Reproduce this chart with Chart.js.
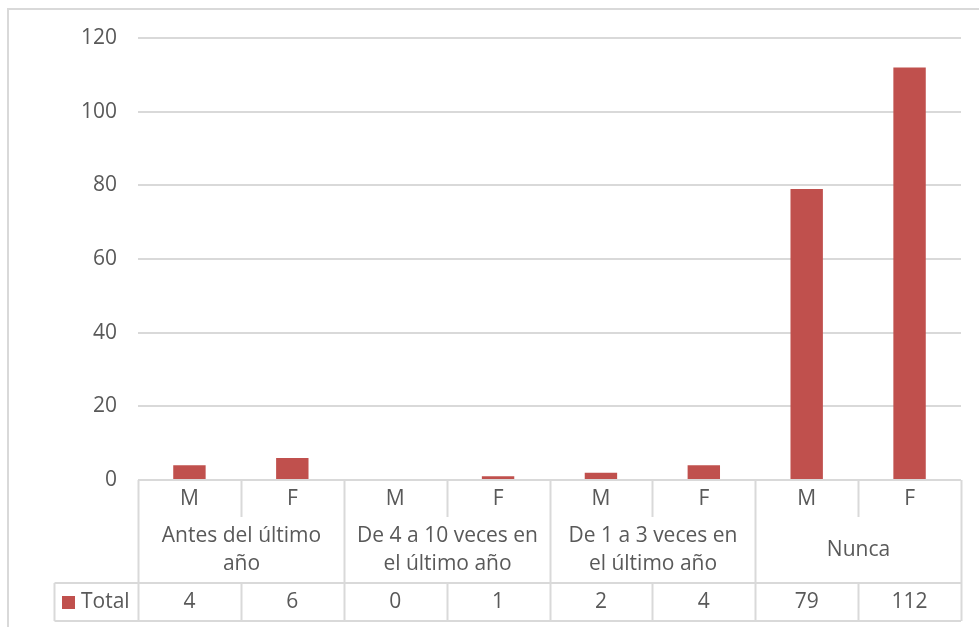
<!DOCTYPE html>
<html>
<head>
<meta charset="utf-8">
<script src="https://cdn.jsdelivr.net/npm/chart.js@4/dist/chart.umd.min.js"></script>
<style>
  html, body { margin: 0; padding: 0; background: #fff; }
  #box { width: 979px; height: 627px; position: relative; }
</style>
</head>
<body>
<div id="box"><canvas id="grafico"></canvas></div>
<script>
// ---- Datos ----
const grupos = [
  ["Antes del último", "año"],
  ["De 4 a 10 veces en", "el último año"],
  ["De 1 a 3 veces en", "el último año"],
  ["Nunca"]
];
const sexos = ["M", "F"];
const totales = [4, 6, 0, 1, 2, 4, 79, 112];
const serieNombre = "Total";

const ROJO = "#C0504D";
const GRIS_TXT = "#595959";
const GRIS_LIN = "#D9D9D9";
const FUENTE = "'Open Sans', 'Liberation Sans', sans-serif";
const TAM = 21;

// una etiqueta por barra: M, F, M, F...
const etiquetas = [];
grupos.forEach(() => sexos.forEach(s => etiquetas.push(s)));

// ---- Tabla de datos bajo el eje (estilo Excel) ----
const tablaPlugin = {
  id: "tablaDatos",
  afterDraw(chart) {
    const ctx = chart.ctx;
    const x = chart.scales.x;
    const area = chart.chartArea;
    const n = etiquetas.length;
    const paso = (area.right - area.left) / n;
    const borde = i => Math.round(area.left + i * paso) + 0.5;

    const yEje = Math.round(area.bottom);
    const yCorta = yEje + 37;
    const yFila = yEje + 103;
    const yFin = yEje + 141;
    const xLeyenda = 54.5;

    ctx.save();
    ctx.strokeStyle = GRIS_LIN;
    ctx.lineWidth = 2;

    // marco exterior
    ctx.beginPath();
    ctx.moveTo(8, chart.height + 5);
    ctx.lineTo(8, 9);
    ctx.lineTo(chart.width + 5, 9);
    ctx.stroke();

    ctx.beginPath();
    // separadores verticales
    for (let i = 0; i <= n; i++) {
      const xb = borde(i);
      const esGrupo = i % sexos.length === 0;
      ctx.moveTo(xb, yEje);
      ctx.lineTo(xb, esGrupo ? yFin : yCorta);
      if (!esGrupo) {
        ctx.moveTo(xb, yFila);
        ctx.lineTo(xb, yFin);
      }
    }
    // fila de valores
    ctx.moveTo(xLeyenda, yFila);
    ctx.lineTo(area.right, yFila);
    ctx.moveTo(xLeyenda, yFin);
    ctx.lineTo(area.right, yFin);
    ctx.moveTo(xLeyenda, yFila);
    ctx.lineTo(xLeyenda, yFin);
    ctx.stroke();

    // textos
    ctx.fillStyle = GRIS_TXT;
    ctx.font = TAM + "px " + FUENTE;
    ctx.textAlign = "center";
    ctx.textBaseline = "middle";

    etiquetas.forEach((et, i) => {
      const cx = x.getPixelForValue(i);
      ctx.fillText(et, cx, yEje + 19);
      ctx.fillText(String(totales[i]), cx, yFila + 19);
    });

    grupos.forEach((lineas, g) => {
      const cx = (borde(g * sexos.length) + borde((g + 1) * sexos.length)) / 2;
      const centro = yEje + 70;
      const alto = 28;
      const y0 = centro - (lineas.length - 1) * alto / 2;
      lineas.forEach((t, k) => ctx.fillText(t, cx, y0 + k * alto));
    });

    // clave de leyenda
    ctx.fillStyle = ROJO;
    ctx.fillRect(62, yFila + 13, 13, 13);
    ctx.fillStyle = GRIS_TXT;
    ctx.textAlign = "left";
    ctx.fillText(serieNombre, 81, yFila + 19);
    ctx.restore();
  }
};

new Chart(document.getElementById("grafico"), {
  type: "bar",
  data: {
    labels: etiquetas,
    datasets: [{
      label: serieNombre,
      data: totales,
      backgroundColor: ROJO,
      borderWidth: 0,
      barPercentage: 0.315,
      categoryPercentage: 1
    }]
  },
  options: {
    responsive: true,
    maintainAspectRatio: false,
    animation: false,
    layout: { padding: { top: 38, right: 18, bottom: 147, left: 0 } },
    plugins: { legend: { display: false }, tooltip: { enabled: false } },
    scales: {
      x: { display: false },
      y: {
        min: 0,
        max: 120,
        ticks: {
          stepSize: 20,
          padding: 21,
          color: GRIS_TXT,
          font: { family: FUENTE, size: TAM }
        },
        grid: { color: GRIS_LIN, lineWidth: 2, drawTicks: false },
        border: { display: false },
        afterFit(scale) { scale.width = 138; }
      }
    }
  },
  plugins: [tablaPlugin]
});
</script>
</body>
</html>
